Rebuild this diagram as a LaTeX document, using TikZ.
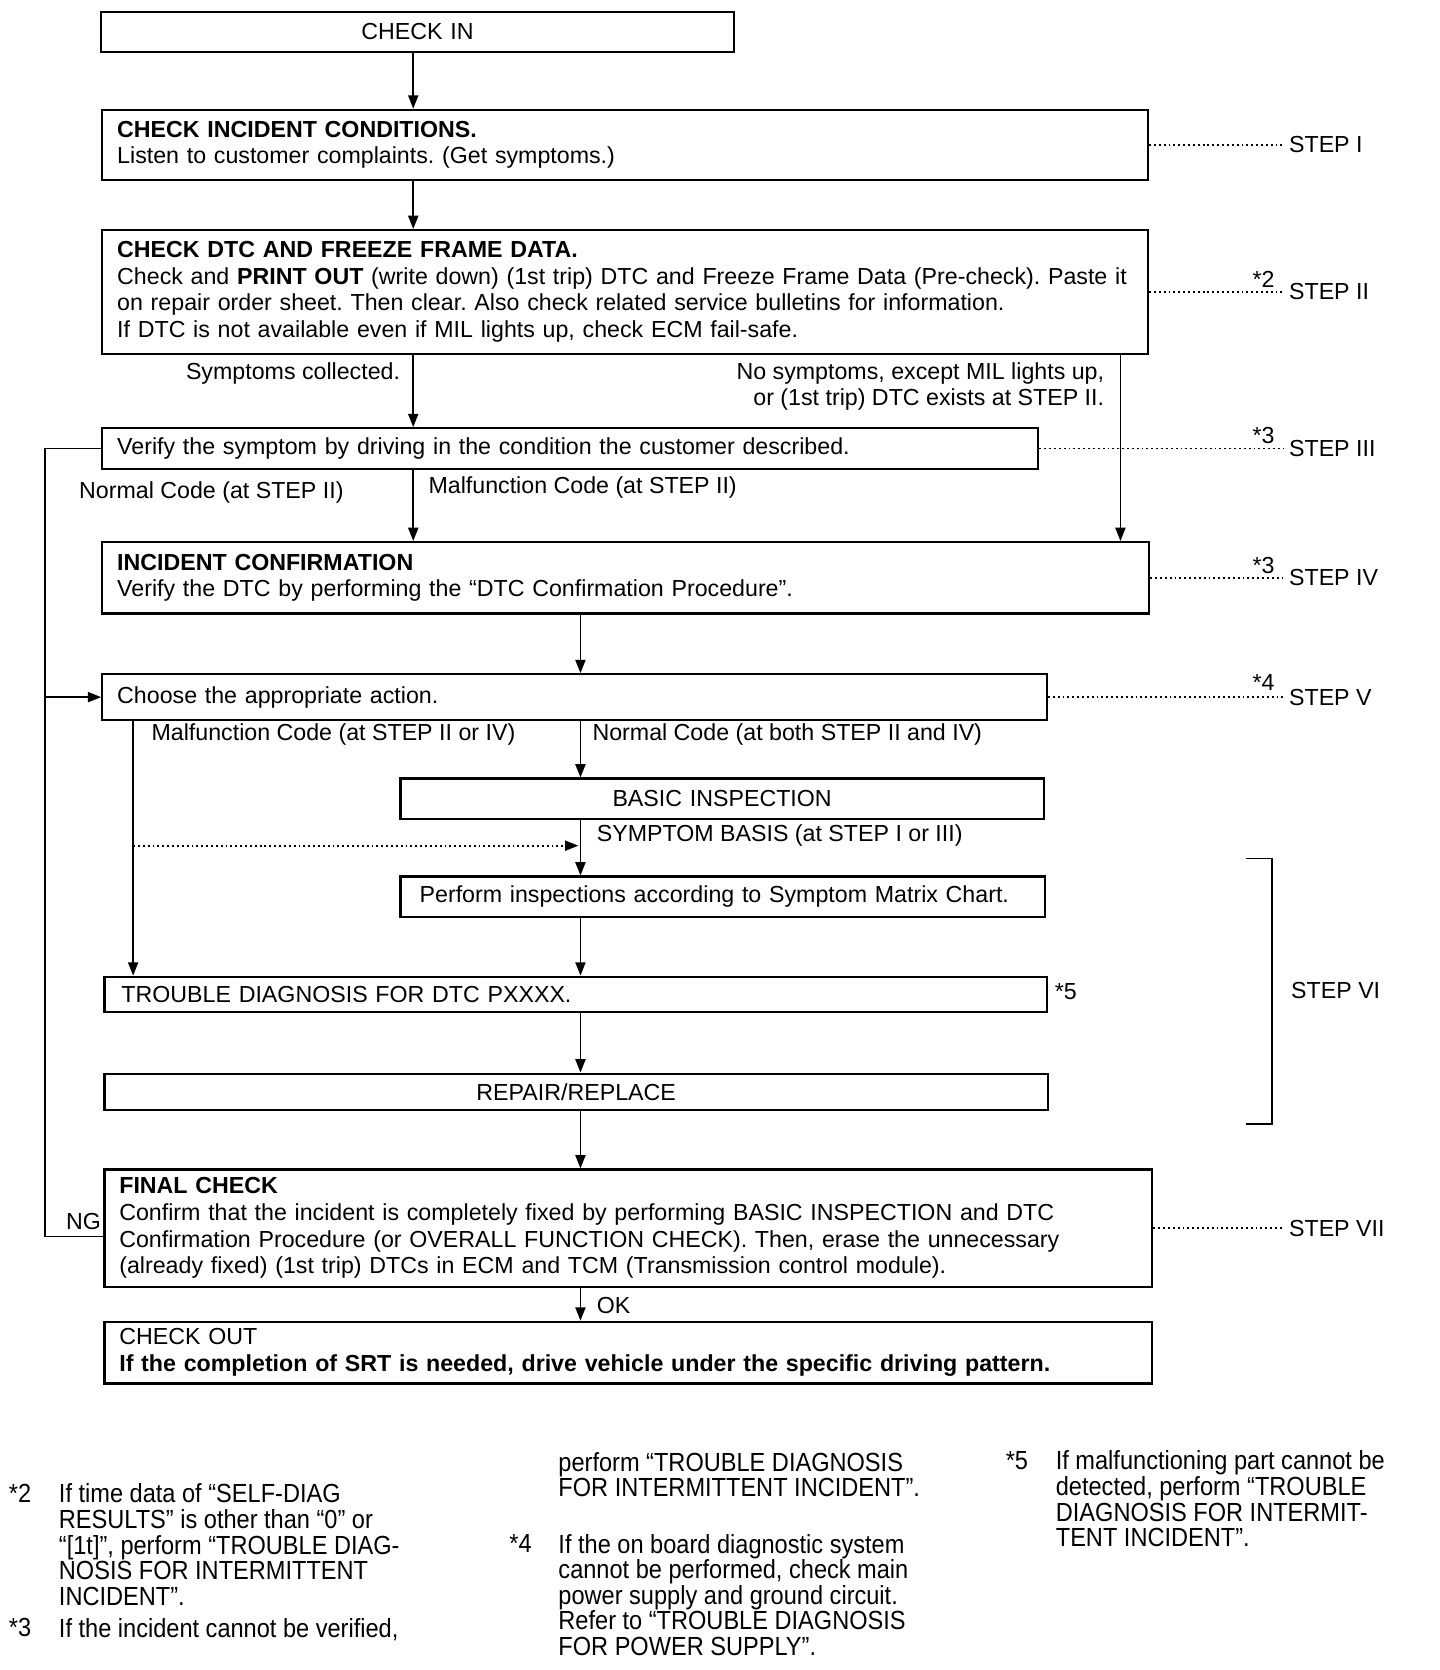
\documentclass[tikz,border=0pt]{standalone}
\usepackage{fontspec}
\setmainfont{Liberation Sans}
\newfontfamily\notefont{Liberation Sans}[FakeStretch=0.9]
\usetikzlibrary{arrows.meta}
\newcommand\mainsz{\fontsize{12.4}{14.3}\selectfont}
\newcommand\notesz{\notefont\fontsize{14}{13.7}\selectfont}
\frenchspacing

\begin{document}
\begin{tikzpicture}[x=0.02cm, y=-0.02cm,
    box/.style={draw, line width=1.2pt, anchor=north west, inner xsep=0.28cm, inner ysep=0pt, align=left, font=\mainsz},
    flow/.style={line width=0.9pt, -{Triangle[length=0.25cm, width=0.19cm]}},
    conn/.style={line width=0.9pt},
    dotline/.style={line width=0.9pt, dash pattern=on 1pt off 1.6pt},
    steplbl/.style={anchor=west, font=\mainsz, inner sep=0.1cm},
    lbl/.style={font=\mainsz, inner sep=0pt},
    note/.style={anchor=north west, inner sep=0pt, align=left, font=\notesz}]
  \useasboundingbox (0,0) rectangle (1352,1568);

  % columns of the connectors
  \coordinate (colA) at (388,0);
  \coordinate (colB) at (545,0);
  \coordinate (colC) at (1052,0);
  \coordinate (colD) at (125,0);
  \coordinate (loopx) at (42,0);
  \coordinate (xstep) at (1205,0);

  % boxes
  \node[box, align=center, text width=11.32cm, minimum height=0.76cm] (chkin) at (94,10) {CHECK IN};
  \node[box, text width=19.08cm, minimum height=1.32cm] (stepI) at (95,102)
    {\textbf{CHECK INCIDENT CONDITIONS.}\\ Listen to customer complaints. (Get symptoms.)};
  \node[box, text width=19.08cm, minimum height=2.32cm] (stepII) at (95,215)
    {\textbf{CHECK DTC AND FREEZE FRAME DATA.}\\
     Check and \textbf{PRINT OUT} (write down) (1st trip) DTC and Freeze Frame Data (Pre-check). Paste it\\
     on repair order sheet. Then clear. Also check related service bulletins for information.\\
     If DTC is not available even if MIL lights up, check ECM fail-safe.};
  \node[box, text width=17.02cm, minimum height=0.76cm] (verify) at (95,401)
    {Verify the symptom by driving in the condition the customer described.};
  \node[box, text width=19.10cm, minimum height=1.34cm] (confirm) at (95,508)
    {\textbf{INCIDENT CONFIRMATION}\\ Verify the DTC by performing the “DTC Confirmation Procedure”.};
  \node[box, text width=17.18cm, minimum height=0.86cm] (choose) at (95,632) {Choose the appropriate action.};
  \node[box, align=center, text width=11.52cm, minimum height=0.76cm] (basic) at (375,730) {BASIC INSPECTION};
  \node[box, inner xsep=0.36cm, text width=11.38cm, minimum height=0.76cm] (matrix) at (375,822)
    {Perform inspections according to Symptom Matrix Chart.};
  \node[box, inner xsep=0.32cm, text width=17.06cm, minimum height=0.66cm] (trouble) at (97,916)
    {TROUBLE DIAGNOSIS FOR DTC PXXXX.};
  \node[box, align=center, text width=17.16cm, minimum height=0.68cm] (repair) at (97,1007) {REPAIR/REPLACE};
  \node[box, text width=19.12cm, minimum height=2.2cm] (final) at (97,1097)
    {\textbf{FINAL CHECK}\\
     Confirm that the incident is completely fixed by performing BASIC INSPECTION and DTC\\
     Confirmation Procedure (or OVERALL FUNCTION CHECK). Then, erase the unnecessary\\
     (already fixed) (1st trip) DTCs in ECM and TCM (Transmission control module).};
  \node[box, text width=19.12cm, minimum height=1.16cm] (chkout) at (97,1240)
    {CHECK OUT\\ \textbf{If the completion of SRT is needed, drive vehicle under the specific driving pattern.}};

  % main flow
  \draw[flow] (chkin.south -| colA) -- (stepI.north -| colA);
  \draw[flow] (stepI.south -| colA) -- (stepII.north -| colA);
  \draw[flow] (stepII.south -| colA) -- (verify.north -| colA);
  \draw[flow] (stepII.south -| colC) -- (confirm.north -| colC);
  \draw[flow] (verify.south -| colA) -- (confirm.north -| colA);
  \draw[flow] (confirm.south -| colB) -- (choose.north -| colB);
  \draw[flow] (choose.south -| colB) -- (basic.north -| colB);
  \draw[flow] (basic.south -| colB) -- (matrix.north -| colB);
  \draw[flow] (matrix.south -| colB) -- (trouble.north -| colB);
  \draw[flow] (choose.south -| colD) -- (trouble.north -| colD);
  \draw[flow] (trouble.south -| colB) -- (repair.north -| colB);
  \draw[flow] (repair.south -| colB) -- (final.north -| colB);
  \draw[flow] (final.south -| colB) -- (chkout.north -| colB);

  % symptom basis branch
  \coordinate (dotstart) at (125,794);
  \coordinate (dotend) at (543,794);
  \draw[dotline, -{Triangle[length=0.25cm, width=0.19cm]}] (dotstart) -- (dotend);

  % NG loop
  \draw[conn] ([yshift=-0.16cm]final.west) -| (loopx |- verify.west) -- (verify.west);
  \draw[flow] (loopx |- choose.west) -- (choose.west);

  % branch labels
  \node[lbl, anchor=east] (lsym) at (376,351) {Symptoms collected.};
  \node[lbl, anchor=east, align=right] (lnosym) at (1037,363)
    {No symptoms, except MIL lights up,\\ or (1st trip) DTC exists at STEP II.};
  \node[lbl, anchor=west] (lnorm2) at (74,462) {Normal Code (at STEP II)};
  \node[lbl, anchor=west] (lmal2) at (402,458) {Malfunction Code (at STEP II)};
  \node[lbl, anchor=west] (lmal4) at (142,690) {Malfunction Code (at STEP II or IV)};
  \node[lbl, anchor=west] (lnorm4) at (556,690) {Normal Code (at both STEP II and IV)};
  \node[lbl, anchor=west] (lsymb) at (560,784) {SYMPTOM BASIS (at STEP I or III)};
  \node[lbl, anchor=west] (l5) at (990,931) {*5};
  \node[lbl, anchor=south east] (lng) at (95,1155) {NG};
  \node[lbl, anchor=west] (lok) at (560,1226) {OK};

  % steps
  \node[steplbl] (s1) at (stepI.east -| xstep) {STEP I};
  \node[steplbl] (s2) at (stepII.east -| xstep) {STEP II};
  \node[steplbl] (s3) at (verify.east -| xstep) {STEP III};
  \node[steplbl] (s4) at (confirm.east -| xstep) {STEP IV};
  \node[steplbl] (s5) at (choose.east -| xstep) {STEP V};
  \node[steplbl] (s6) at (1207,930) {STEP VI};
  \node[steplbl] (s7) at (final.east -| xstep) {STEP VII};
  \draw[dotline] (stepI.east) -- (s1.west);
  \draw[dotline] (stepII.east) -- (s2.west);
  \draw[dotline] (verify.east) -- (s3.west);
  \draw[dotline] (confirm.east) -- (s4.west);
  \draw[dotline] (choose.east) -- (s5.west);
  \draw[dotline] (final.east) -- (s7.west);
  \draw[line width=1pt] (1170,806) -- (1194,806) -- (1194,1055) -- (1170,1055);
  \node[lbl, anchor=south east] (m2) at (1197,270) {*2};
  \node[lbl, anchor=south east] (m3a) at (1197,417) {*3};
  \node[lbl, anchor=south east] (m3b) at (1197,539) {*3};
  \node[lbl, anchor=south east] (m4) at (1197,649) {*4};

  % notes
  \node[note] (k2) at (8,1393) {*2};
  \node[note] (n2) at (55,1393) {If time data of “SELF-DIAG\\ RESULTS” is other than “0” or\\
    “[1t]”, perform “TROUBLE DIAG-\\ NOSIS FOR INTERMITTENT\\ INCIDENT”.};
  \node[note] (k3) at (8,1519) {*3};
  \node[note] (n3) at (55,1519) {If the incident cannot be verified,};
  \node[note] (n3b) at (524,1363) {perform “TROUBLE DIAGNOSIS\\ FOR INTERMITTENT INCIDENT”.};
  \node[note] (k4) at (478,1440) {*4};
  \node[note] (n4) at (524,1440) {If the on board diagnostic system\\ cannot be performed, check main\\
    power supply and ground circuit.\\ Refer to “TROUBLE DIAGNOSIS\\ FOR POWER SUPPLY”.};
  \node[note] (k5) at (944,1362) {*5};
  \node[note] (n5) at (991,1362) {If malfunctioning part cannot be\\ detected, perform “TROUBLE\\
    DIAGNOSIS FOR INTERMIT-\\ TENT INCIDENT”.};
\end{tikzpicture}
\end{document}
